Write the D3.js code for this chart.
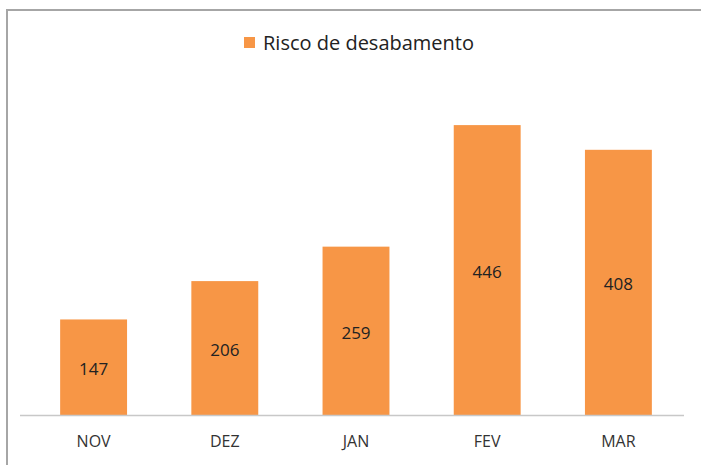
<!DOCTYPE html>
<html><head><meta charset="utf-8">
<script src="https://cdn.jsdelivr.net/npm/d3@7"></script>
<style>body{margin:0;background:#fff}svg{display:block}</style>
</head><body>
<script>
const categories = ["NOV","DEZ","JAN","FEV","MAR"];
const values = [147,206,259,446,408];
const seriesName = "Risco de desabamento";

const W=701,H=465;
const svg=d3.select("body").append("svg").attr("width",W).attr("height",H);
const font='"Open Sans",sans-serif';
// frame
svg.append("path").attr("d","M7,465 L7,10 L701,10").attr("fill","none").attr("stroke","#a6a6a6").attr("stroke-width",2);

const x=d3.scaleBand().domain(categories).range([28,684]).paddingInner(0.49).paddingOuter(0.245);
const y=d3.scaleLinear().domain([0,500]).range([415,90]);

svg.selectAll("rect.bar").data(values).enter().append("rect").attr("class","bar")
 .attr("x",(d,i)=>x(categories[i])).attr("width",x.bandwidth())
 .attr("y",d=>y(d)).attr("height",d=>y(0)-y(d)).attr("fill","#f79646");

svg.append("line").attr("x1",20).attr("x2",684).attr("y1",y(0)+0.5).attr("y2",y(0)+0.5).attr("stroke","#c8c8c8").attr("stroke-width",1.5);

svg.selectAll("text.val").data(values).enter().append("text")
 .attr("x",(d,i)=>x(categories[i])+x.bandwidth()/2).attr("y",d=>(y(d)+y(0))/2+8)
 .attr("text-anchor","middle").attr("font-family",font).attr("font-size",17).attr("fill","#222")
 .text(d=>d);

const ax=d3.axisBottom(x).tickSize(0).tickPadding(0);
const g=svg.append("g").attr("transform","translate(0,436)").call(ax);
g.select(".domain").remove();
g.selectAll("text").attr("font-family",font).attr("font-size",16).attr("fill","#333").attr("dy","0.71em");

svg.append("rect").attr("x",244).attr("y",37).attr("width",11).attr("height",11).attr("fill","#f79646");
svg.append("text").attr("x",263).attr("y",50).attr("font-family",font).attr("font-size",20).attr("fill","#222").text(seriesName);
</script>
</body></html>
